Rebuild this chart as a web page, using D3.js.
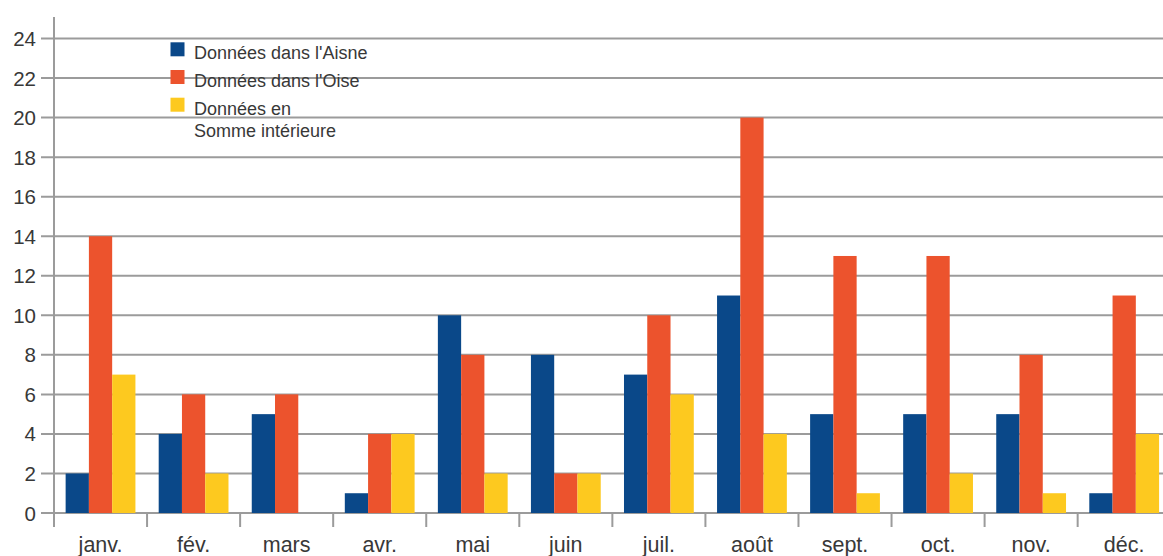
<!DOCTYPE html>
<html>
<head>
<meta charset="utf-8">
<script src="https://cdn.jsdelivr.net/npm/d3@7"></script>
<style>
  html, body { margin: 0; padding: 0; background: #fff; }
  svg { display: block; font-family: "Liberation Sans", Arial, sans-serif; }
</style>
</head>
<body>
<svg id="chart" width="1163" height="556"></svg>
<script>
// Monthly counts per department
const months = ["janv.", "fév.", "mars", "avr.", "mai", "juin", "juil.", "août", "sept.", "oct.", "nov.", "déc."];
const aisne  = [2, 4, 5, 1, 10, 8, 7, 11, 5, 5, 5, 1];
const oise   = [14, 6, 6, 4, 8, 2, 10, 20, 13, 13, 8, 11];
const somme  = [7, 2, 0, 4, 2, 2, 6, 4, 1, 2, 1, 4];
const seriesNames = ["Données dans l'Aisne", "Données dans l'Oise", "Données en\nSomme intérieure"];
const yTicks = [0, 2, 4, 6, 8, 10, 12, 14, 16, 18, 20, 22, 24];

const series = [aisne, oise, somme];
const colors = ["#0a4889", "#ec532d", "#fdc91f"];
const gridColor = "#9b9b9b";
const textColor = "#383838";

const svg = d3.select("#chart");
const W = 1163;
const x0 = 54, yBottom = 513, yTop = 38.5;
const step = 93.06;

const x = d3.scaleBand().domain(months).range([x0, x0 + step * months.length]).padding(0);
const xs = d3.scaleBand().domain(d3.range(series.length)).range([0, x.bandwidth()])
  .paddingInner(0).paddingOuter(0.5);
const y = d3.scaleLinear().domain([0, 24]).range([yBottom, yTop]);

// horizontal grid lines and y tick marks
svg.append("g").selectAll("line").data(yTicks).join("line")
  .attr("x1", 41).attr("x2", W)
  .attr("y1", d => y(d)).attr("y2", d => y(d))
  .attr("stroke", gridColor).attr("stroke-width", 2);

// y labels
svg.append("g").selectAll("text").data(yTicks).join("text")
  .attr("x", 36).attr("y", d => y(d))
  .attr("text-anchor", "end").attr("dominant-baseline", "central")
  .attr("font-size", 20.5).attr("fill", textColor)
  .text(d => d);

// bars
const groups = svg.append("g").selectAll("g").data(months).join("g")
  .attr("transform", d => `translate(${x(d)},0)`);
groups.selectAll("rect")
  .data((m, i) => series.map((s, k) => ({ k, v: s[i] })))
  .join("rect")
  .attr("x", d => xs(d.k))
  .attr("width", xs.bandwidth())
  .attr("y", d => y(d.v))
  .attr("height", d => y(0) - y(d.v))
  .attr("fill", d => colors[d.k]);

// vertical axis line
svg.append("line")
  .attr("x1", x0).attr("x2", x0).attr("y1", 17).attr("y2", 527)
  .attr("stroke", gridColor).attr("stroke-width", 2);

// category separators
const seps = d3.range(1, months.length).map(i => x(months[i]));
svg.append("g").selectAll("line").data(seps).join("line")
  .attr("x1", d => d).attr("x2", d => d)
  .attr("y1", yBottom).attr("y2", 527)
  .attr("stroke", gridColor).attr("stroke-width", 2);

// x labels
svg.append("g").selectAll("text").data(months).join("text")
  .attr("x", d => x(d) + x.bandwidth() / 2).attr("y", 552)
  .attr("text-anchor", "middle")
  .attr("font-size", 21.5).attr("fill", textColor)
  .text(d => d);

// legend
const legend = svg.append("g");
const legendY = [42.3, 70, 97.7];
seriesNames.forEach((name, k) => {
  legend.append("rect")
    .attr("x", 170.5).attr("y", legendY[k]).attr("width", 14).attr("height", 14)
    .attr("fill", colors[k]);
  const t = legend.append("text")
    .attr("x", 194).attr("y", legendY[k] + 17)
    .attr("font-size", 18).attr("fill", textColor);
  name.split("\n").forEach((line, j) => {
    t.append("tspan").attr("x", 194).attr("dy", j === 0 ? 0 : 22.3).text(line);
  });
});
</script>
</body>
</html>
